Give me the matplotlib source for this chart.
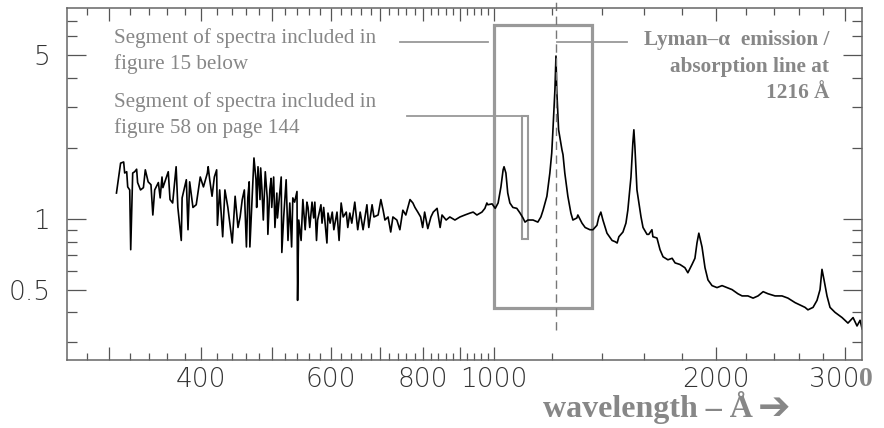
import matplotlib
matplotlib.use("Agg")
import matplotlib.pyplot as plt
from matplotlib.patches import Rectangle
from matplotlib.ticker import FixedLocator, FixedFormatter, NullFormatter

# composite spectrum (wavelength in A, relative flux)
wave = [307, 311, 314, 315, 317, 318, 320, 321, 323, 325, 327, 328, 331, 334, 336, 339, 342, 344, 346, 350,
        352, 354, 355, 358, 361, 363, 366, 370, 372, 376, 377, 382, 384, 386, 390, 394, 399, 403, 408, 409,
        411, 414, 417, 420, 421, 424, 428, 431, 435, 441, 445, 449,
        452, 455, 458, 461, 463, 465, 466, 469, 470, 472, 475, 476, 478, 481, 482, 484, 486, 489, 492, 493,
        496, 498, 499, 502, 504, 507, 508, 514, 515, 518, 522, 525, 528, 531, 533, 536, 540, 541, 543, 547,
        550, 554, 557, 559, 562, 566, 569, 571, 574, 576, 582, 584, 587, 593, 595, 599, 603, 606, 612, 616,
        620, 624, 630, 633, 637, 641, 647, 653,
        658, 664, 672, 676, 683, 687, 696, 702, 707, 711, 718, 724, 729, 738, 745, 752, 759, 769, 776, 781, 788,
        795, 800, 805, 813, 821, 827, 837, 845, 850, 861, 871, 885, 899, 913, 928, 937, 948, 963, 972, 978,
        981, 994, 1004, 1013, 1022, 1029, 1032, 1038, 1044, 1051, 1061, 1074, 1085, 1095, 1102, 1112, 1130,
        1147, 1158, 1166, 1180, 1191, 1198, 1202, 1210, 1214, 1217, 1224, 1237, 1241, 1248, 1260, 1272, 1280,
        1296, 1300, 1317, 1330, 1350, 1363, 1380, 1388, 1397, 1406, 1424, 1447, 1461,
        1470, 1478, 1497, 1511, 1520, 1535, 1544, 1549, 1554, 1564, 1584, 1594, 1614, 1623, 1639, 1644, 1665,
        1681, 1697, 1723, 1746, 1762, 1789, 1817, 1834, 1858, 1875, 1887, 1898, 1917, 1935, 1953, 1978, 2009,
        2041, 2073, 2106, 2145,
        2173, 2213, 2249, 2284, 2321, 2357, 2409, 2462, 2508, 2565, 2605, 2646, 2670, 2713, 2747, 2773, 2790,
        2808, 2834, 2861, 2906, 2971, 3026, 3075, 3113, 3143, 3163]
flux = [1.29, 1.73, 1.75, 1.57, 1.59, 1.37, 1.33, 0.74, 1.57, 1.59, 1.63, 1.43, 1.33, 1.36, 1.62, 1.44, 1.40, 1.04, 1.33, 1.43,
        1.23, 1.51, 1.36, 1.47, 1.59, 1.21, 1.17, 1.67, 1.12, 0.81, 1.23, 1.47, 0.90, 1.44, 1.12, 1.15, 1.51, 1.37, 1.57, 1.67,
        1.47, 1.25, 1.51, 1.62, 0.94, 1.33, 0.84, 1.33, 1.12, 0.79, 1.25, 0.92,
        1.02, 1.21, 1.33, 0.76, 1.23, 1.44, 0.76, 1.17, 1.33, 1.82, 1.47, 1.12, 1.67, 1.21, 1.65, 1.33, 0.99, 1.59, 1.23, 0.86,
        1.33, 1.49, 1.12, 1.51, 0.92, 1.29, 1.01, 1.51, 0.72, 1.02, 1.47, 0.81, 1.17, 0.76, 1.23, 1.18, 1.31, 0.45, 0.99, 0.81,
        1.21, 0.90, 1.18, 1.12, 0.92, 1.18, 1.01, 1.18, 0.81, 0.99, 1.15, 0.96, 1.12, 0.79, 1.06, 0.96, 1.07, 0.90, 1.07, 0.81,
        1.17, 1.02, 1.07, 0.92, 1.06, 0.96, 1.18, 0.90,
        1.07, 0.90, 1.15, 0.92, 1.15, 1.02, 1.04, 1.21, 1.09, 0.99, 1.02, 0.88, 1.02, 0.99, 0.90, 1.09, 1.04, 1.21, 1.17, 1.12, 1.07,
        1.02, 0.92, 1.07, 0.91, 1.02, 1.07, 1.11, 0.92, 1.04, 0.99, 1.02, 0.99, 1.02, 1.04, 1.06, 1.07, 1.04, 1.07, 1.11, 1.17,
        1.15, 1.16, 1.11, 1.17, 1.37, 1.62, 1.67, 1.57, 1.29, 1.17, 1.12, 1.11, 1.06, 1.01, 0.97, 0.99, 0.99,
        0.97, 1.02, 1.09, 1.25, 1.57, 1.91, 2.33, 3.55, 4.95, 3.55, 2.40, 1.97, 1.88, 1.57, 1.25, 1.06, 0.99,
        1.01, 1.04, 0.96, 0.92, 0.90, 0.90, 0.94, 1.02, 1.07, 0.99, 0.87, 0.81, 0.80,
        0.79, 0.84, 0.88, 0.96, 1.09, 1.51, 2.11, 2.40, 2.03, 1.33, 1.02, 0.92, 0.86, 0.86, 0.90, 0.84, 0.83,
        0.74, 0.69, 0.67, 0.68, 0.65, 0.64, 0.62, 0.59, 0.64, 0.68, 0.79, 0.87, 0.76, 0.62, 0.55, 0.52, 0.51,
        0.52, 0.51, 0.50, 0.48,
        0.47, 0.47, 0.46, 0.47, 0.49, 0.48, 0.47, 0.47, 0.46, 0.44, 0.43, 0.42, 0.41, 0.42, 0.45, 0.50, 0.61,
        0.55, 0.47, 0.42, 0.40, 0.38, 0.36, 0.38, 0.35, 0.37, 0.34]

x_major = [300, 400, 500, 600, 700, 800, 900, 1000, 2000, 3000]
x_labels = ["", "400", "", "600", "", "800", "", "1000", "2000", ""]
x_minor = [v for v in range(280, 1000, 20) if v % 100 != 0] + [1200, 1400, 1600, 1800, 2200, 2400, 2600, 2800]
y_major = [0.5, 1, 5]
y_labels = ["0.5", "1", "5"]
y_minor = [0.3, 0.4, 0.6, 0.7, 0.8, 0.9, 2, 3, 4, 6, 7]

lya = 1216
big_box = [1000, 1359, 0.417, 6.71]
small_box = [1091, 1112, 0.822, 2.75]

gray = "#878787"
serif = ["Liberation Serif", "DejaVu Serif"]

fig = plt.figure(figsize=(8.84, 4.28), dpi=100)
ax = fig.add_axes([67 / 884, 1 - 360 / 428, 795 / 884, 352 / 428])
ax.plot(wave, flux, color="black", lw=1.2)
ax.set_xscale("log")
ax.set_yscale("log")
ax.set_xlim(263, 3162)
ax.set_ylim(0.2506, 7.93)

ax.xaxis.set_major_locator(FixedLocator(x_major))
ax.xaxis.set_major_formatter(FixedFormatter(x_labels))
ax.xaxis.set_minor_locator(FixedLocator(x_minor))
ax.xaxis.set_minor_formatter(NullFormatter())
ax.yaxis.set_major_locator(FixedLocator(y_major))
ax.yaxis.set_major_formatter(FixedFormatter(y_labels))
ax.yaxis.set_minor_locator(FixedLocator(y_minor))
ax.yaxis.set_minor_formatter(NullFormatter())

ax.tick_params(which="both", direction="in", top=True, right=True, color="#555555", width=0.9,
               labelcolor="#333333", labelsize=19)
ax.tick_params(axis="x", which="major", length=9.5, pad=5)
ax.tick_params(axis="x", which="minor", length=5)
ax.tick_params(axis="y", which="major", length=14, pad=12)
ax.tick_params(axis="y", which="minor", length=7)
for lab in ax.get_xticklabels() + ax.get_yticklabels():
    lab.set_fontweight("light")
for sp in ax.spines.values():
    sp.set_color("#666666")
    sp.set_linewidth(1.1)

# the odd "3000" label: plain "300" then a bold grey "0"
ax.annotate("300", xy=(3000, 0), xycoords=("data", "axes fraction"), xytext=(10, -5),
            textcoords="offset points", ha="right", va="top", size=19, color="#333333", fontweight="light")
ax.annotate("0", xy=(3000, 0), xycoords=("data", "axes fraction"), xytext=(10, -5),
            textcoords="offset points", ha="left", va="top", size=20, color=gray,
            family=serif, fontweight="bold")

# boxes and leader lines
ax.add_patch(Rectangle((big_box[0], big_box[2]), big_box[1] - big_box[0], big_box[3] - big_box[2],
                       fill=False, ec="#999999", lw=2.3))
ax.add_patch(Rectangle((small_box[0], small_box[2]), small_box[1] - small_box[0], small_box[3] - small_box[2],
                       fill=False, ec="#999999", lw=1.5))
ax.plot([745, 981], [5.68, 5.68], color="#999999", lw=1.3)
ax.plot([1218, 1516], [5.68, 5.68], color="#999999", lw=1.3)
ax.plot([761, 1112], [2.75, 2.75], color="#999999", lw=1.3)
ax.plot([lya, lya], [0.336, 8.58], color="#777777", lw=1.0, ls=(0, (6, 4)), clip_on=False)

ax.text(305, 5.2, "Segment of spectra included in\nfigure 15 below", family=serif, size=15.2,
        color=gray, ha="left", va="center", linespacing=1.36)
ax.text(305, 2.77, "Segment of spectra included in\nfigure 58 on page 144", family=serif, size=15.2,
        color=gray, ha="left", va="center", linespacing=1.36)
ax.text(2852, 4.45, "Lyman\u2013\u03b1  emission /\nabsorption line at\n1216 \u00c5", family=serif,
        size=15.3, fontweight="bold", color=gray, ha="right", va="center", multialignment="right",
        linespacing=1.43)

fig.text(753 / 884, 1 - 417 / 428, "wavelength \u2013 \u00c5", family=serif, size=23,
         fontweight="bold", color=gray, ha="right", va="baseline")
fig.text(758 / 884, 1 - 419 / 428, "\u2794", family="DejaVu Sans", size=28,
         fontweight="bold", color=gray, ha="left", va="baseline")

fig.savefig("out.png", dpi=100)
